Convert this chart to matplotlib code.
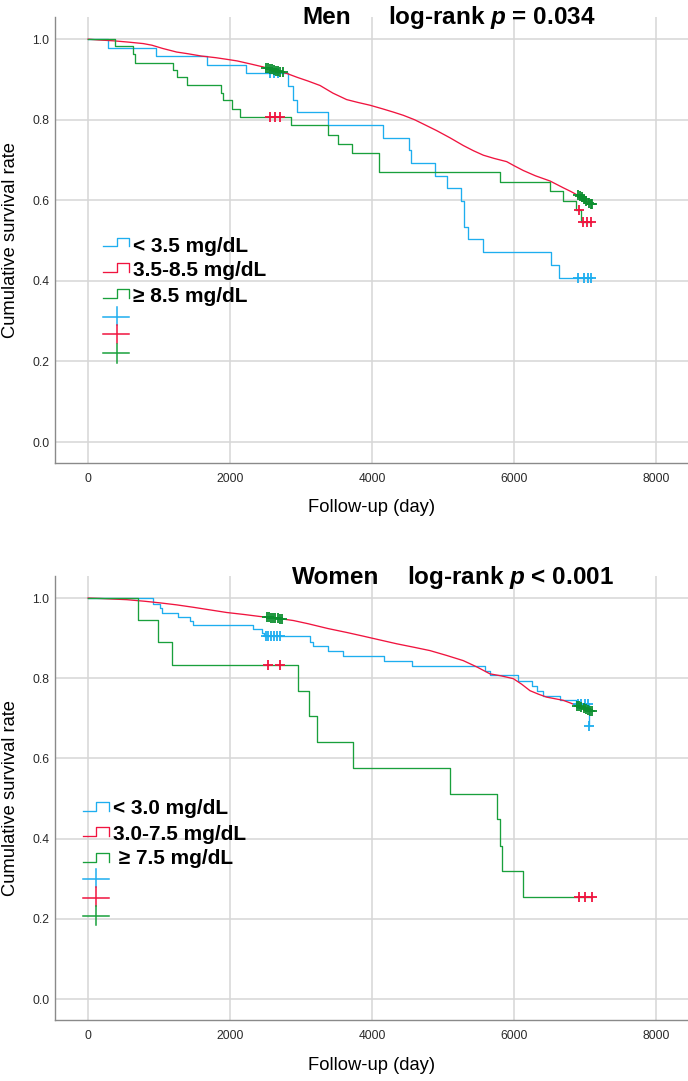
import numpy as np
import matplotlib
matplotlib.use("Agg")
import matplotlib.pyplot as plt
from matplotlib.lines import Line2D

# ---------------- data ----------------
x_ticks = [0, 2000, 4000, 6000, 8000]
y_ticks = [0.0, 0.2, 0.4, 0.6, 0.8, 1.0]

# Men
men_low_t = [0, 286, 958, 1671, 2221, 2812, 2890, 2940, 3380, 4150, 4521, 4550, 4887, 5052, 5249, 5300, 5348, 5559, 6521, 6638]
men_low_s = [1.0, 0.978, 0.958, 0.937, 0.915, 0.883, 0.850, 0.820, 0.787, 0.755, 0.724, 0.693, 0.661, 0.630, 0.599, 0.535, 0.504, 0.472, 0.440, 0.408]
men_low_c = [2570, 2620, 2670, 6900, 6980, 7040, 7090]

men_mid_t = [0, 150, 350, 550, 779, 900, 1050, 1249, 1400, 1600, 1800, 1953, 2100, 2300, 2469, 2650, 2798, 2950, 3100, 3268, 3450, 3643, 3800, 3972, 4150, 4300, 4441, 4600, 4750, 4911, 5100, 5286, 5430, 5568, 5720, 5897, 6000, 6131, 6300, 6507, 6695, 6800, 6883, 6960, 7060]
men_mid_s = [1.0, 0.998, 0.996, 0.993, 0.989, 0.985, 0.977, 0.968, 0.964, 0.958, 0.954, 0.950, 0.946, 0.938, 0.931, 0.922, 0.915, 0.905, 0.896, 0.885, 0.866, 0.850, 0.843, 0.836, 0.827, 0.819, 0.811, 0.800, 0.787, 0.773, 0.755, 0.736, 0.723, 0.712, 0.704, 0.696, 0.686, 0.674, 0.661, 0.648, 0.631, 0.622, 0.614, 0.607, 0.592]
men_mid_c = [2500, 2530, 2560, 2590, 2620, 2650, 2680, 2710, 2740, 6900, 6930, 6960, 6990, 7020, 7050, 7080, 7100]

men_high_t = [0, 380, 638, 657, 1192, 1258, 1390, 1869, 1906, 2033, 2141, 2859, 3385, 3526, 3718, 4103, 5803, 6507, 6690, 6875, 6945]
men_high_s = [1.0, 0.983, 0.964, 0.942, 0.923, 0.905, 0.885, 0.866, 0.848, 0.827, 0.807, 0.786, 0.763, 0.740, 0.717, 0.670, 0.646, 0.622, 0.599, 0.576, 0.545]
men_high_c = [2570, 2630, 2700, 6915, 6975, 7030, 7085]

# Women
wom_low_t = [0, 920, 1014, 1038, 1272, 1437, 1474, 2319, 2446, 2480, 3127, 3164, 3385, 3596, 4169, 4568, 5592, 5662, 6061, 6249, 6319, 6413, 6648, 6880, 7050]
wom_low_s = [1.0, 0.985, 0.974, 0.963, 0.953, 0.944, 0.934, 0.923, 0.913, 0.905, 0.891, 0.880, 0.867, 0.855, 0.843, 0.830, 0.818, 0.807, 0.794, 0.780, 0.769, 0.757, 0.745, 0.736, 0.682]
wom_low_c = [2500, 2540, 2580, 2620, 2660, 2700, 6900, 6950, 7000, 7040, 7060]

wom_mid_t = [0, 169, 545, 800, 1014, 1250, 1484, 1700, 1953, 2200, 2423, 2650, 2892, 3100, 3380, 3650, 3878, 4100, 4348, 4600, 4817, 5050, 5286, 5480, 5662, 5820, 5991, 6110, 6226, 6350, 6460, 6695, 6800, 6883, 7000, 7090]
wom_mid_s = [1.0, 0.999, 0.996, 0.992, 0.988, 0.983, 0.977, 0.971, 0.964, 0.959, 0.954, 0.950, 0.944, 0.936, 0.924, 0.914, 0.905, 0.896, 0.886, 0.877, 0.869, 0.857, 0.844, 0.828, 0.811, 0.806, 0.799, 0.785, 0.769, 0.760, 0.753, 0.745, 0.738, 0.732, 0.725, 0.718]
wom_mid_c = [2520, 2550, 2580, 2610, 2640, 2670, 2700, 2730, 6890, 6920, 6950, 6980, 7010, 7040, 7070, 7100]

wom_high_t = [0, 709, 981, 1179, 2953, 3113, 3221, 3737, 5099, 5756, 5800, 5827, 6131]
wom_high_s = [1.0, 0.945, 0.891, 0.834, 0.769, 0.706, 0.641, 0.577, 0.512, 0.448, 0.383, 0.319, 0.255]
wom_high_c = [2530, 2700, 6910, 7000, 7100]

men_labels = ["< 3.5 mg/dL", "3.5-8.5 mg/dL", "\u2265 8.5 mg/dL"]
wom_labels = ["< 3.0 mg/dL", "3.0-7.5 mg/dL", " \u2265 7.5 mg/dL"]
men_title = ("Men", "log-rank $p$ = 0.034")
wom_title = ("Women", "log-rank $p$ < 0.001")

# ---------------- style ----------------
BLUE = "#1eaeef"
RED = "#f0143f"
GREEN = "#19a03c"
CGREEN = "#0c8f2f"
line_colors = [BLUE, RED, GREEN]
censor_colors = [BLUE, CGREEN, RED]
dense = [False, True, False]   # the middle group has many tiny steps

W, H = 688, 1081
plt.rcParams["font.family"] = ["Liberation Sans", "DejaVu Sans"]
plt.rcParams["mathtext.fontset"] = "custom"
plt.rcParams["mathtext.it"] = "Liberation Sans:italic:bold"
plt.rcParams["mathtext.rm"] = "Liberation Sans:bold"
plt.rcParams["mathtext.bf"] = "Liberation Sans:bold"

fig = plt.figure(figsize=(W / 100, H / 100), dpi=100)


def fx(px):
    return px / W


def fy(py):
    return 1 - py / H


def km(ax, t, s, c, lc, cc, is_dense):
    t_end = max(max(c), t[-1])
    tt = np.append(np.asarray(t, float), t_end)
    ss = np.append(np.asarray(s, float), s[-1])
    ds = "default" if is_dense else "steps-post"
    ax.plot(tt, ss, drawstyle=ds, color=lc, lw=0.95, zorder=3)
    if is_dense:
        cs = np.interp(c, tt, ss)
    else:
        idx = np.searchsorted(np.asarray(t), np.asarray(c), side="right") - 1
        cs = np.asarray(s)[idx]
    ax.plot(c, cs, linestyle="none", marker="+", ms=6.5, mew=1.3, color=cc, zorder=4)


def panel(top_px, bot_px, groups, labels, title, title_px, leg):
    ax = fig.add_axes([fx(55), fy(bot_px), 1 - fx(55), (bot_px - top_px) / H])
    ax.set_xlim(-465, 8451)
    ax.set_ylim(-0.052, 1.055)
    ax.set_xticks(x_ticks)
    ax.set_xticklabels([str(v) for v in x_ticks])
    ax.set_yticks(y_ticks)
    ax.set_yticklabels(["%.1f" % v for v in y_ticks])
    ax.tick_params(length=0, labelsize=8.7, labelcolor="#2a2a2a")
    ax.tick_params(axis="x", pad=7)
    ax.tick_params(axis="y", pad=4)
    ax.grid(True, color="#d6d6d6", lw=1.1, zorder=0)
    ax.set_axisbelow(True)
    for sp in ["top", "right"]:
        ax.spines[sp].set_visible(False)
    for sp in ["left", "bottom"]:
        ax.spines[sp].set_color("#8a8a8a")
        ax.spines[sp].set_linewidth(1.0)
    for (t, s, c), lc, cc, dn in zip(groups, line_colors, censor_colors, dense):
        km(ax, t, s, c, lc, cc, dn)

    # axis labels
    fig.text(fx(371.5), fy(bot_px + 45), "Follow-up (day)", ha="center", va="center", fontsize=13.2)
    fig.text(fx(11), fy((top_px + bot_px) / 2), "Cumulative survival rate", rotation=90,
             ha="center", va="center", fontsize=13.2)

    # title
    (x1, x2, yb) = title_px
    fig.text(fx(x1), fy(yb), title[0], ha="left", va="baseline", fontsize=17.5, fontweight="bold")
    fig.text(fx(x2), fy(yb), title[1], ha="left", va="baseline", fontsize=17.5, fontweight="bold")

    # legend (drawn manually, SPSS style)
    x0, xm, x1_, tx, rows, crosses = leg
    for (lo, hi, ty), lab, col in zip(rows, labels, line_colors):
        fig.add_artist(Line2D([fx(x0), fx(xm), fx(xm), fx(x1_), fx(x1_)],
                              [fy(lo), fy(lo), fy(hi), fy(hi), fy(lo)], color=col, lw=0.95))
        fig.text(fx(tx), fy(ty), lab, ha="left", va="center", fontsize=15, fontweight="bold")
    for (yh, v0, v1), col in zip(crosses, line_colors):
        fig.add_artist(Line2D([fx(x0), fx(x1_)], [fy(yh), fy(yh)], color=col, lw=1.1))
        fig.add_artist(Line2D([fx(xm), fx(xm)], [fy(v0), fy(v1)], color=col, lw=1.1))
    return ax


men_groups = [(men_low_t, men_low_s, men_low_c), (men_mid_t, men_mid_s, men_mid_c),
              (men_high_t, men_high_s, men_high_c)]
wom_groups = [(wom_low_t, wom_low_s, wom_low_c), (wom_mid_t, wom_mid_s, wom_mid_c),
              (wom_high_t, wom_high_s, wom_high_c)]

panel(17, 463, men_groups, men_labels, men_title, (302, 388, 24),
      (103, 117, 129, 133,
       [(246, 238, 246), (272, 263, 270), (298, 289, 297)],
       [(317, 307, 325), (334, 325, 343), (353, 344, 363)]))

panel(576, 1020, wom_groups, wom_labels, wom_title, (292, 407, 584),
      (83, 96, 109, 113,
       [(811, 802, 809), (836, 827, 834), (862, 853, 859)],
       [(879, 869, 887), (898, 887, 906), (916, 906, 925)]))

fig.savefig("out.png", dpi=100)
